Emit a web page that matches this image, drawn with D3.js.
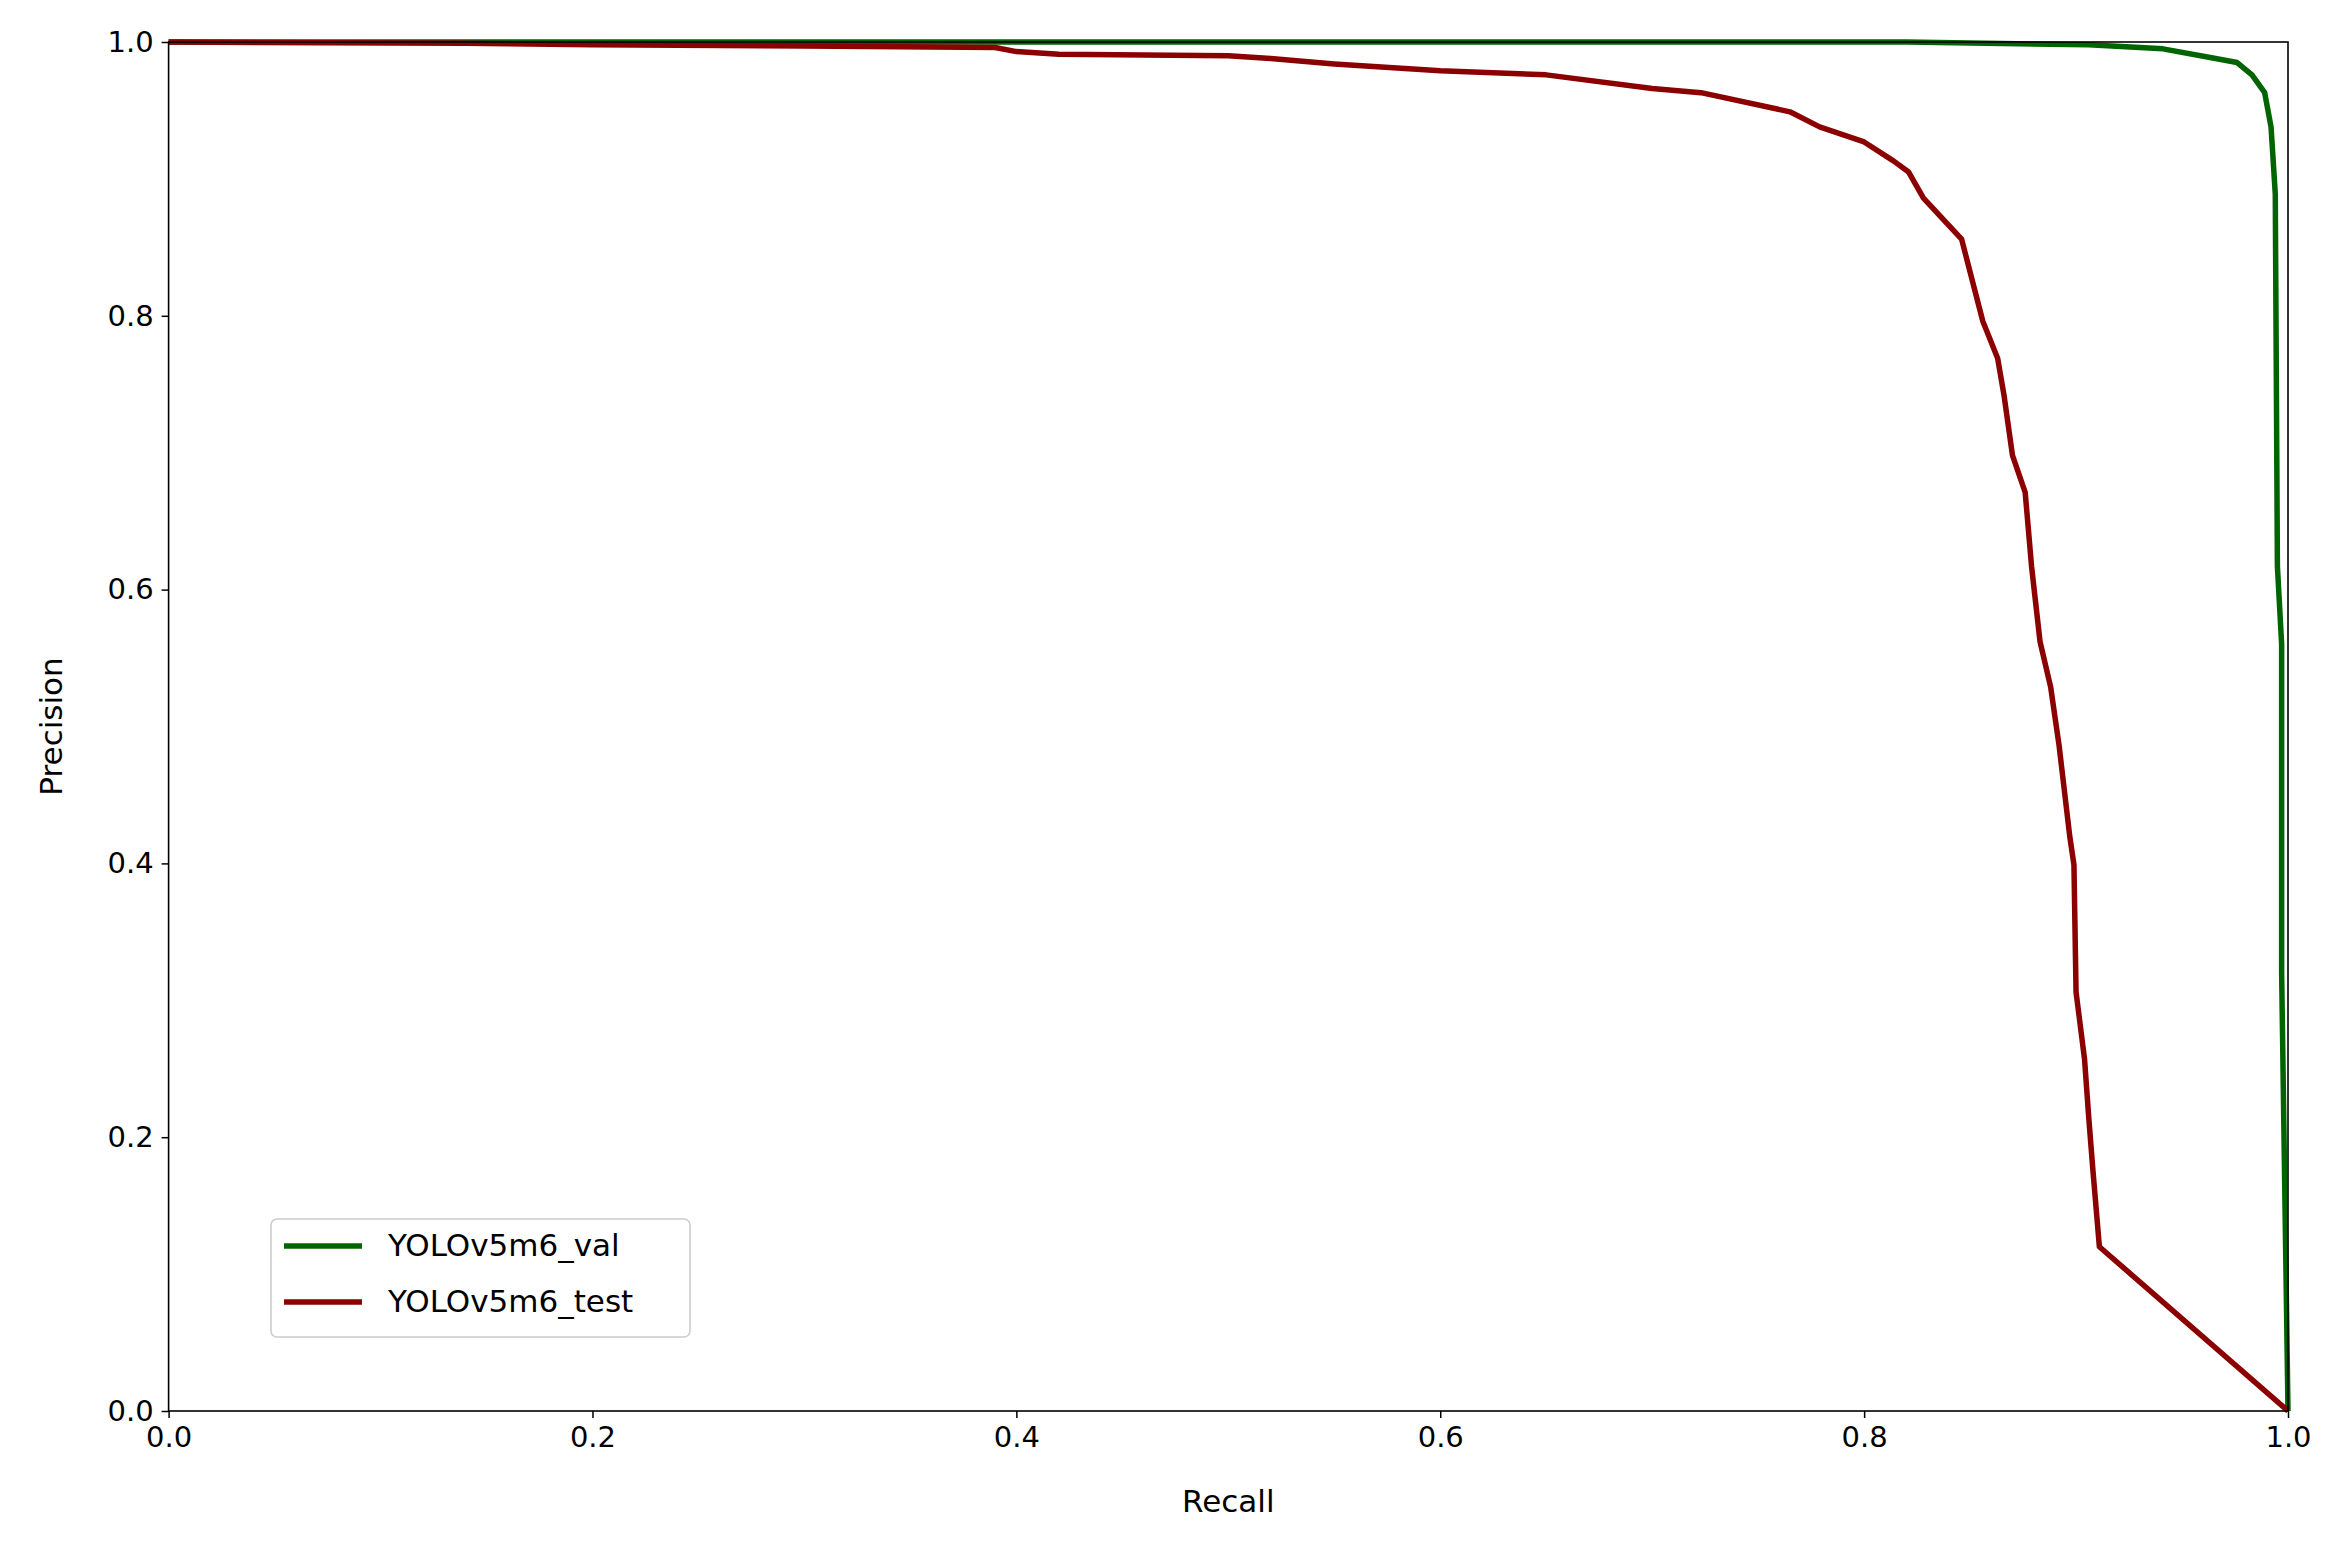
<!DOCTYPE html><html><head><meta charset="utf-8">
<script src="https://cdn.jsdelivr.net/npm/d3@7"></script>
<style>body{margin:0;background:#fff}</style></head><body>
<script>
const valRecall=[0,0.82,0.906,0.941,0.962,0.976,0.983,0.989,0.992,0.994,0.995,0.997,0.997,1.0];
const valPrecision=[1,1,0.998,0.995,0.989,0.985,0.976,0.963,0.938,0.889,0.617,0.56,0.32,0];
const testRecall=[0,0.14,0.2,0.3,0.39,0.4,0.42,0.5,0.52,0.55,0.6,0.65,0.7,0.723,0.765,0.779,0.8,0.814,0.821,0.828,0.846,0.856,0.863,0.866,0.870,0.876,0.879,0.883,0.888,0.892,0.897,0.899,0.900,0.904,0.906,0.908,0.911,1.0];
const testPrecision=[1,0.999,0.998,0.997,0.996,0.993,0.991,0.99,0.988,0.984,0.979,0.976,0.966,0.963,0.949,0.938,0.927,0.913,0.905,0.886,0.856,0.796,0.769,0.742,0.698,0.671,0.617,0.562,0.529,0.486,0.42,0.399,0.306,0.257,0.214,0.175,0.12,0];
const ticks=[0,0.2,0.4,0.6,0.8,1.0];
const seriesNames=["YOLOv5m6_val","YOLOv5m6_test"];
const colors=["#006400","#8b0000"];
const W=2339,H=1542,L=168.6,R=2288,T=42,B=1411;
const svg=d3.select("body").append("svg").attr("width",W).attr("height",H).style("font-family","DejaVu Sans");
const x=d3.scaleLinear([0,1],[L,R]),y=d3.scaleLinear([0,1],[B,T]);
const gx=svg.append("g").attr("transform",`translate(0,${B})`).call(d3.axisBottom(x).tickValues(ticks).tickFormat(d3.format(".1f")).tickSize(7).tickPadding(8));
const gy=svg.append("g").attr("transform",`translate(${L},0)`).call(d3.axisLeft(y).tickValues(ticks).tickFormat(d3.format(".1f")).tickSize(7).tickPadding(8));
[gx,gy].forEach(g=>{g.select(".domain").remove();g.selectAll("text").attr("font-size",29).attr("font-family","DejaVu Sans");g.selectAll("line").attr("stroke-width",1.5);});
const line=d3.line().x(d=>x(d[0])).y(d=>y(d[1]));
const data=[d3.zip(valRecall,valPrecision),d3.zip(testRecall,testPrecision)];
data.forEach((d,i)=>svg.append("path").datum(d).attr("d",line).attr("fill","none").attr("stroke",colors[i]).attr("stroke-width",5.5).attr("stroke-linejoin","round"));
svg.append("rect").attr("x",L).attr("y",T).attr("width",R-L).attr("height",B-T).attr("fill","none").attr("stroke","#000").attr("stroke-width",1.6);
svg.append("text").attr("x",(L+R)/2).attr("y",1512).attr("text-anchor","middle").attr("font-size",31).text("Recall");
svg.append("text").attr("transform",`translate(62,${(T+B)/2}) rotate(-90)`).attr("text-anchor","middle").attr("font-size",31).text("Precision");
const lg=svg.append("g");
lg.append("rect").attr("x",271).attr("y",1219).attr("width",419).attr("height",118).attr("rx",6).attr("fill","#fff").attr("stroke","#ccc").attr("stroke-width",1.6);
seriesNames.forEach((n,i)=>{const yy=1246+i*56;
lg.append("line").attr("x1",284).attr("x2",362).attr("y1",yy).attr("y2",yy).attr("stroke",colors[i]).attr("stroke-width",5.5);
lg.append("text").attr("x",388).attr("y",yy+10).attr("font-size",31).text(n);});
</script></body></html>
